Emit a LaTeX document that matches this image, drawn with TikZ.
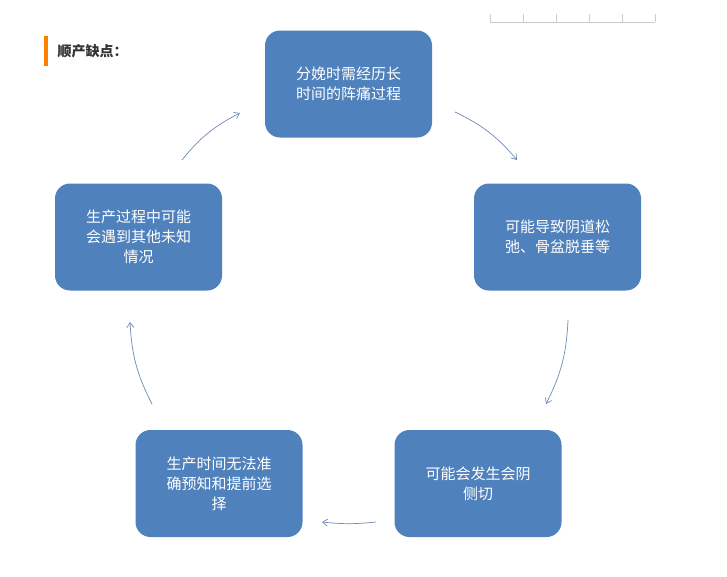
\documentclass[tikz,border=0pt]{standalone}
\usepackage{fontspec}
\newfontfamily\cjk{Noto Sans CJK SC}
\usetikzlibrary{arrows.meta}
\begin{document}
\begin{tikzpicture}[x=1pt,y=-1pt,
 box/.style={fill={rgb,255:red,79;green,129;blue,189},rounded corners=15pt,minimum width=167pt,minimum height=107pt,text width=150pt,align=center,text=white,font=\cjk\fontsize{15}{20}\selectfont,inner sep=0pt},
 arr/.style={draw={rgb,255:red,110;green,140;blue,180},line width=0.7pt,-{Straight Barb[length=5pt,width=7pt]}}]
\useasboundingbox (0,0) rectangle (727,576);
\fill[white] (0,0) rectangle (727,576);
\draw[gray!40] (490,22) -- (655,22);
\foreach \x in {490,523,556,589,622,655} \draw[gray!40] (\x,14) -- (\x,22);
\fill[orange] (44,36) rectangle (48,66);
\node[anchor=west,font=\cjk\bfseries\fontsize{14}{16}\selectfont,text=black!80] (title) at (54,51) {顺产缺点：};
\node[box] (a) at (348.5,84) {分娩时需经历长\\时间的阵痛过程};
\node[box] (b) at (557.5,237) {可能导致阴道松\\弛、骨盆脱垂等};
\node[box] (c) at (478,483.5) {可能会发生会阴\\侧切};
\node[box] (d) at (219,483.5) {生产时间无法准\\确预知和提前选\\择};
\node[box] (e) at (138.5,237) {生产过程中可能\\会遇到其他未知\\情况};
\coordinate (a1) at (455,112); \coordinate (a2) at (517,160);
\coordinate (b1) at (568,320); \coordinate (b2) at (546,404);
\coordinate (c1) at (376,522); \coordinate (c2) at (322,522);
\coordinate (d1) at (152,404); \coordinate (d2) at (130,322);
\coordinate (e1) at (182,160); \coordinate (e2) at (240,113);
\draw[arr] (a1) to[bend left=12] (a2);
\draw[arr] (b1) to[bend left=12] (b2);
\draw[arr] (c1) to[bend left=6] (c2);
\draw[arr] (d1) to[bend left=12] (d2);
\draw[arr] (e1) to[bend left=12] (e2);
\end{tikzpicture}
\end{document}
